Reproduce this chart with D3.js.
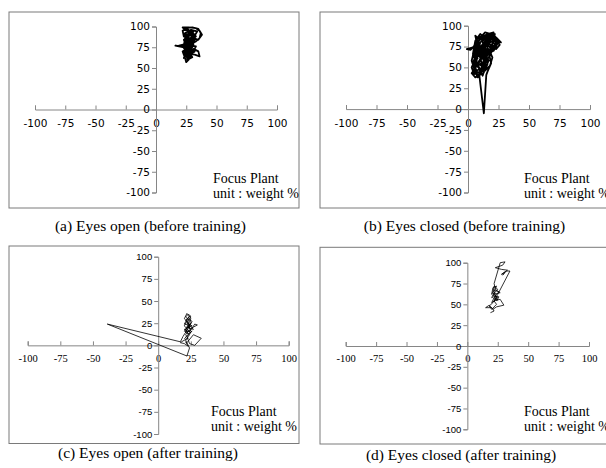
<!DOCTYPE html>
<html><head><meta charset="utf-8">
<script src="https://cdn.jsdelivr.net/npm/d3@7"></script>
<style>html,body{margin:0;padding:0;background:#fff;overflow:hidden}</style>
</head><body>
<svg id="c" width="606" height="468"></svg>
<script>
// ---- data ----
const tickValues = [-100, -75, -50, -25, 0, 25, 50, 75, 100];
const tickLabels = ["-100", "-75", "-50", "-25", "0", "25", "50", "75", "100"];
const captions = ["(a) Eyes open (before training)", "(b) Eyes closed (before training)",
                  "(c) Eyes open (after training)", "(d) Eyes closed (after training)"];
const noteLines = ["Focus Plant", "unit : weight %"];

const trajA = [[25,75],[28,80],[24,70],[30,72],[26,64],[29,85],[23,90],[27,95],[31,88],[25,78],[33,76],[28,62],[24,66],[30,90],[24,98],[30,99],[35,97],[37,92],[36,86],[33,82],[30,80],[26,74],[16,77],[22,76],[25,73],[22,70],[24,62],[25,57],[27,60],[28,67],[32,66],[36,64],[35,70],[31,73],[29,68],[26,72],[23,84],[27,88],[29,93],[26,97],[22,95],[23,88],[28,85],[31,79],[27,77],[24,81],[29,74],[32,70],[27,65],[24,69],[26,80],[30,84],[33,88],[30,93],[25,90],[23,78],[28,71],[31,77],[26,86],[24,92],[29,96],[34,94],[32,89],[28,91],[25,84],[23,74],[27,68],[30,63],[26,60],[24,73],[29,79],[32,84],[27,82],[24,76],[19,77],[25,79],[28,76],[30,70],[25,66],[23,62],[26,70],[29,87],[31,95],[24,96],[22,99],[27,99],[33,98],[36,95],[38,90],[35,84],[31,86],[27,92],[24,86],[26,78],[23,66],[27,73],[25,87],[28,94],[26,83],[24,79],[30,76],[28,69],[25,64],[23,71]];

const trajB = [[8,60],[5,72],[10,80],[6,50],[12,65],[4,45],[9,40],[14,55],[7,85],[13,88],[18,82],[15,70],[10,58],[3,43],[6,38],[11,42],[8,52],[16,60],[12,75],[20,88],[25,82],[22,75],[17,78],[13,62],[9,70],[4,62],[7,78],[2,71],[-1,72],[4,74],[11,86],[16,90],[21,92],[19,84],[24,80],[27,80],[23,86],[18,74],[14,80],[9,66],[5,55],[10,48],[15,50],[9,44],[13,-5],[15,41],[16,45],[19,55],[17,67],[21,70],[24,78],[20,80],[16,85],[11,76],[7,63],[3,50],[5,42],[10,45],[13,57],[11,70],[15,76],[19,90],[14,92],[9,84],[6,88],[8,75],[12,68],[17,72],[20,62],[18,52],[14,46],[8,44],[5,48],[9,56],[13,72],[17,86],[22,84],[26,77],[23,72],[19,76],[15,84],[10,90],[6,82],[4,66],[7,56],[11,52],[14,60],[12,82],[18,88],[22,90],[20,77],[16,65],[12,50],[7,46],[4,56],[8,68],[11,60],[15,66],[19,70],[23,80],[21,86],[15,88],[9,78],[6,69],[10,62],[13,44],[16,54],[14,74],[18,80],[24,84],[20,91],[12,87],[8,80],[5,64],[9,50],[12,40],[14,49],[17,58],[13,68],[10,74],[7,70],[11,64],[16,70],[19,66],[15,58],[12,46],[8,38],[6,44],[3,58],[6,76],[10,84],[14,85],[18,78],[21,74],[17,62]];

const trajC = [[22,20],[24,28],[21,32],[23,35],[25,33],[22,25],[26,22],[20,18],[24,15],[28,24],[30,23],[25,19],[21,12],[23,8],[19,5],[17,3],[20,2],[23,-1],[21,4],[22,3],[27,12],[33,8],[28,0],[24,2],[22,10],[25,14],[20,22],[23,30],[26,27],[22,17],[19,10],[17,4],[-39,24],[22,-12],[24,-3],[21,6],[24,12],[20,16],[25,25],[23,20],[27,18],[21,28],[24,33],[22,29],[20,24],[23,23],[25,17],[21,15],[22,21],[24,19],[23,26],[20,30],[22,36],[25,31],[24,22],[21,18],[23,13],[26,16],[22,11],[20,7]];

const trajD = [[19,40],[22,42],[20,46],[15,46],[18,49],[21,44],[24,47],[30,49],[27,56],[23,55],[20,52],[22,58],[25,55],[23,60],[20,58],[22,64],[24,62],[26,65],[22,67],[20,62],[21,70],[24,72],[22,66],[23,60],[26,59],[24,54],[22,57],[24,63],[27,64],[23,68],[22,75],[27,100],[31,101],[29,97],[23,94],[28,92],[33,91],[30,88],[28,86],[31,89],[29,85],[32,90],[35,90],[25,62],[23,57],[21,52],[18,48],[20,44],[24,50],[22,54],[25,58],[21,61],[23,65],[25,68],[22,72],[21,64],[24,59],[22,53]];

// ---- layout ----
const panels = [
  {traj: trajA, box:[9,12,299,208], xr:[35,277], yr:[192.5,26.5], lw:1.8, xFont:"sans", yFont:"sans", cap:[150.5,231], note:[213,183]},
  {traj: trajB, box:[320,12,640,208], xr:[346,590], yr:[192.5,25.7], lw:1.8, xFont:"sans", yFont:"sans", cap:[464.5,231], note:[524,183]},
  {traj: trajC, box:[9,246,299,443.5], xr:[27.7,288.7], yr:[434,256.7], lw:0.8, xFont:"serif", yFont:"sans2", cap:[148,458], note:[211,416]},
  {traj: trajD, box:[320,247.3,640,444], xr:[345.7,589], yr:[429.3,262.7], lw:0.8, xFont:"serif", yFont:"sans2", cap:[461,460], note:[524,416]}
];
const fonts = {
  sans: {family:"DejaVu Sans", size:10.5},
  sans2: {family:"Liberation Sans", size:9.5},
  serif: {family:"Liberation Serif", size:10.5}
};
const axisColor = "#868686";
const fmt = d => tickLabels[tickValues.indexOf(d)];

const svg = d3.select("#c");
panels.forEach((p, i) => {
  const g = svg.append("g");
  g.append("rect").attr("x", p.box[0]).attr("y", p.box[1])
    .attr("width", p.box[2]-p.box[0]).attr("height", p.box[3]-p.box[1])
    .attr("fill", "none").attr("stroke", "#7a7a7a").attr("stroke-width", 1);
  const x = d3.scaleLinear().domain([-100,100]).range(p.xr);
  const y = d3.scaleLinear().domain([-100,100]).range(p.yr);
  // x axis
  const xa = g.append("g").attr("transform", `translate(0,${y(0)})`)
    .call(d3.axisBottom(x).tickValues(tickValues).tickSize(-4).tickFormat(fmt));
  xa.select(".domain").attr("stroke", axisColor);
  xa.selectAll(".tick line").attr("stroke", axisColor);
  const xf = fonts[p.xFont];
  xa.selectAll(".tick text").attr("y", p.xFont === "serif" ? 9 : 10)
    .attr("font-family", xf.family).attr("font-size", xf.size).attr("fill", "#000");
  // y axis
  const ya = g.append("g").attr("transform", `translate(${x(0)},0)`)
    .call(d3.axisLeft(y).tickValues(tickValues).tickSize(4).tickFormat(fmt));
  ya.select(".domain").attr("stroke", axisColor);
  ya.selectAll(".tick line").attr("stroke", axisColor);
  const yf = fonts[p.yFont];
  ya.selectAll(".tick text").attr("x", -6)
    .attr("font-family", yf.family).attr("font-size", yf.size).attr("fill", "#000");
  // trajectory
  g.append("path").datum(p.traj)
    .attr("d", d3.line().x(d => x(d[0])).y(d => y(d[1])))
    .attr("fill", "none").attr("stroke", "#000").attr("stroke-width", p.lw)
    .attr("stroke-linejoin", "round");
  // note
  noteLines.forEach((t, k) => {
    g.append("text").attr("x", p.note[0]).attr("y", p.note[1] + k*15)
      .attr("font-family", "Liberation Serif").attr("font-size", 14).text(t);
  });
  // caption
  g.append("text").attr("x", p.cap[0]).attr("y", p.cap[1]).attr("text-anchor", "middle")
    .attr("font-family", "Liberation Serif").attr("font-size", 15.5).text(captions[i]);
});
</script>
</body></html>
